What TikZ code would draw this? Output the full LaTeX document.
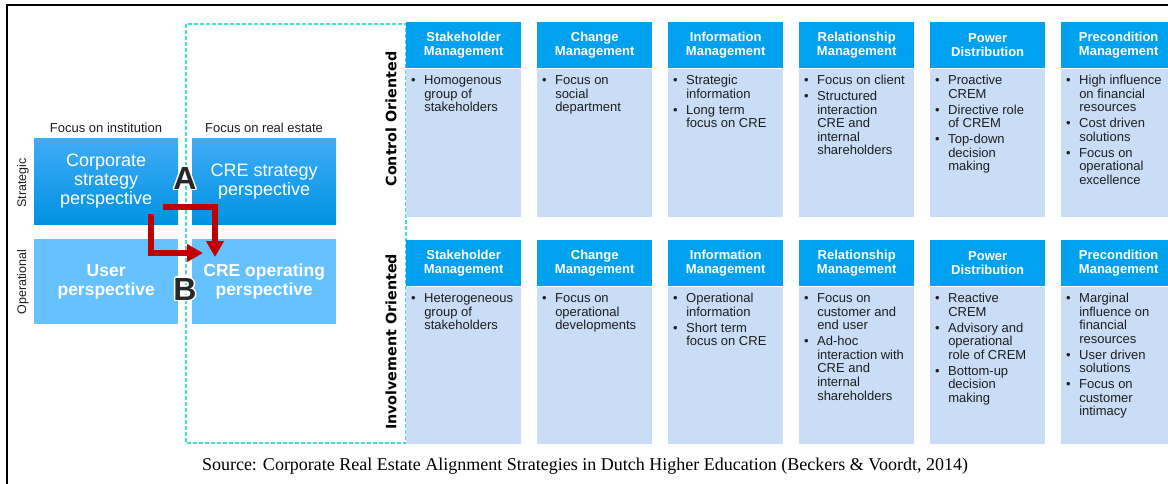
\documentclass[tikz,border=0pt]{standalone}
\usepackage{fontspec}
\setmainfont{Liberation Serif}
\setsansfont{Liberation Sans}
\newfontfamily\orientfont{DejaVu Sans}
\usetikzlibrary{positioning,arrows.meta}

\definecolor{hdrblue}{RGB}{0,162,240}
\definecolor{bodyblue}{RGB}{201,221,246}
\definecolor{stratTop}{RGB}{64,172,246}
\definecolor{stratBot}{RGB}{0,146,226}
\definecolor{operblue}{RGB}{102,194,255}
\definecolor{dashteal}{RGB}{64,224,204}
\definecolor{arrowred}{RGB}{192,0,0}
\definecolor{lettergray}{RGB}{40,40,40}
\definecolor{textgray}{RGB}{30,30,30}

\newcommand{\bulletlist}[1]{\begin{tabular}{@{}l@{\hspace{8.5pt}}l@{}}#1\end{tabular}}

\tikzset{
  hdr/.style={fill=hdrblue, minimum width=115pt, minimum height=46pt, anchor=north west,
    inner sep=0pt, text=white, align=center, font=\sffamily\bfseries\fontsize{13}{14}\selectfont},
  cbody/.style={fill=bodyblue, minimum width=115pt, minimum height=148pt, inner sep=0pt, below=0pt of #1},
  ibody/.style={fill=bodyblue, minimum width=115pt, minimum height=157pt, inner sep=0pt, below=0pt of #1},
  items/.style={anchor=north west, inner sep=0pt, text=textgray,
    font=\sffamily\fontsize{13}{13.6}\selectfont},
  quad/.style={minimum width=144pt, anchor=north west, inner sep=0pt, text=white, align=center},
  stratq/.style={quad, minimum height=86pt, top color=stratTop, bottom color=stratBot,
    font=\sffamily\fontsize{18}{19}\selectfont},
  operq/.style={quad, minimum height=85pt, fill=operblue,
    font=\sffamily\bfseries\fontsize{17.5}{19}\selectfont},
  axislbl/.style={inner sep=0pt, text=textgray, font=\sffamily\fontsize{13}{13}\selectfont},
  orient/.style={rotate=90, inner sep=0pt, text=black, font=\orientfont\bfseries\fontsize{14.3}{14.3}\selectfont},
  letter/.style={inner sep=0pt, text=lettergray, font=\sffamily\bfseries\fontsize{32}{32}\selectfont},
  redarrow/.style={draw=arrowred, line width=5.5pt, -{Triangle[length=16pt,width=17pt]}}
}

\begin{document}
\begin{tikzpicture}[x=1pt,y=-1pt]

    \useasboundingbox (0,0) rectangle (1168,484);
    \clip (0,0) rectangle (1168,484);
    \fill[white] (0,0) rectangle (1168,484);

    % frame
    \draw[line width=2pt] (7,5) rectangle (1190,500);

    % dashed outline behind the quadrant
    \draw[dashteal, line width=1.3pt, dash pattern=on 4pt off 2pt] (186,24) rectangle (406,443);

    % quadrant
    \node[stratq] (corp) at (34,138) {Corporate\\strategy\\perspective};
    \node[stratq] (crestrat) at (192,138) {CRE strategy\\perspective};
    \node[operq] (user) at (34,239) {User\\perspective};
    \node[operq] (creop) at (192,239) {CRE operating\\perspective};

    \node[axislbl] (inst) at (106,128) {Focus on institution};
    \node[axislbl] (realest) at (264,128) {Focus on real estate};
    \node[axislbl, rotate=90, font=\sffamily\fontsize{12.5}{12.5}\selectfont] (strat) at (23,183) {Strategic};
    \node[axislbl, rotate=90, font=\sffamily\fontsize{12.5}{12.5}\selectfont] (oper) at (23,282) {Operational};

    % letters with white rim
    \foreach \dx/\dy in {-1.5/0,1.5/0,0/-1.5,0/1.5,-1/-1,1/1,-1/1,1/-1}{
      \node[letter, text=white] at (185+\dx,178+\dy) {A};
      \node[letter, text=white] at (185+\dx,289+\dy) {B};
    }
    \node[letter] (lettA) at (185,178) {A};
    \node[letter] (lettB) at (185,289) {B};

    % red arrows
    \coordinate (arrAfrom) at (163,207);
    \coordinate (arrAto) at (215,257);
    \coordinate (arrBfrom) at (151,214);
    \coordinate (arrBto) at (203,253);
    \draw[redarrow] (arrAfrom) -| (arrAto);
    \draw[redarrow] (arrBfrom) |- (arrBto);

    % row labels
    \node[orient] (ctrl) at (391,119) {Control Oriented};
    \node[orient] (invl) at (391,342) {Involvement Oriented};

    % control oriented row
    \node[hdr] (stakeCh) at (406,22) {Stakeholder\\Management};
    \node[cbody=stakeCh] (stakeCb) {};
    \node[items] at ([xshift=5pt,yshift=-6.4pt]stakeCb.north west)
      {\bulletlist{\textbullet & Homogenous\\ & group of\\ & stakeholders}};

    \node[hdr] (changeCh) at (537,22) {Change\\Management};
    \node[cbody=changeCh] (changeCb) {};
    \node[items] at ([xshift=5pt,yshift=-6.4pt]changeCb.north west)
      {\bulletlist{\textbullet & Focus on\\ & social\\ & department}};

    \node[hdr] (infoCh) at (668,22) {Information\\Management};
    \node[cbody=infoCh] (infoCb) {};
    \node[items] at ([xshift=5pt,yshift=-6.4pt]infoCb.north west)
      {\bulletlist{\textbullet & Strategic\\ & information\\[2.3pt]
        \textbullet & Long term\\ & focus on CRE}};

    \node[hdr] (relatCh) at (799,22) {Relationship\\Management};
    \node[cbody=relatCh] (relatCb) {};
    \node[items] at ([xshift=5pt,yshift=-6.4pt]relatCb.north west)
      {\bulletlist{\textbullet & Focus on client\\[2.3pt]
        \textbullet & Structured\\ & interaction\\ & CRE and\\ & internal\\ & shareholders}};

    \node[hdr] (powerCh) at (930,22) {Power\\Distribution};
    \node[cbody=powerCh] (powerCb) {};
    \node[items] at ([xshift=5pt,yshift=-6.4pt]powerCb.north west)
      {\bulletlist{\textbullet & Proactive\\ & CREM\\[2.3pt]
        \textbullet & Directive role\\ & of CREM\\[2.3pt]
        \textbullet & Top-down\\ & decision\\ & making}};

    \node[hdr] (preconCh) at (1061,22) {Precondition\\Management};
    \node[cbody=preconCh] (preconCb) {};
    \node[items] at ([xshift=5pt,yshift=-6.4pt]preconCb.north west)
      {\bulletlist{\textbullet & High influence\\ & on financial\\ & resources\\[2.3pt]
        \textbullet & Cost driven\\ & solutions\\[2.3pt]
        \textbullet & Focus on\\ & operational\\ & excellence}};

    % involvement oriented row
    \node[hdr] (stakeIh) at (406,240) {Stakeholder\\Management};
    \node[ibody=stakeIh] (stakeIb) {};
    \node[items] at ([xshift=5pt,yshift=-6.4pt]stakeIb.north west)
      {\bulletlist{\textbullet & Heterogeneous\\ & group of\\ & stakeholders}};

    \node[hdr] (changeIh) at (537,240) {Change\\Management};
    \node[ibody=changeIh] (changeIb) {};
    \node[items] at ([xshift=5pt,yshift=-6.4pt]changeIb.north west)
      {\bulletlist{\textbullet & Focus on\\ & operational\\ & developments}};

    \node[hdr] (infoIh) at (668,240) {Information\\Management};
    \node[ibody=infoIh] (infoIb) {};
    \node[items] at ([xshift=5pt,yshift=-6.4pt]infoIb.north west)
      {\bulletlist{\textbullet & Operational\\ & information\\[2.3pt]
        \textbullet & Short term\\ & focus on CRE}};

    \node[hdr] (relatIh) at (799,240) {Relationship\\Management};
    \node[ibody=relatIh] (relatIb) {};
    \node[items] at ([xshift=5pt,yshift=-6.4pt]relatIb.north west)
      {\bulletlist{\textbullet & Focus on\\ & customer and\\ & end user\\[2.3pt]
        \textbullet & Ad-hoc\\ & interaction with\\ & CRE and\\ & internal\\ & shareholders}};

    \node[hdr] (powerIh) at (930,240) {Power\\Distribution};
    \node[ibody=powerIh] (powerIb) {};
    \node[items] at ([xshift=5pt,yshift=-6.4pt]powerIb.north west)
      {\bulletlist{\textbullet & Reactive\\ & CREM\\[2.3pt]
        \textbullet & Advisory and\\ & operational\\ & role of CREM\\[2.3pt]
        \textbullet & Bottom-up\\ & decision\\ & making}};

    \node[hdr] (preconIh) at (1061,240) {Precondition\\Management};
    \node[ibody=preconIh] (preconIb) {};
    \node[items] at ([xshift=5pt,yshift=-6.4pt]preconIb.north west)
      {\bulletlist{\textbullet & Marginal\\ & influence on\\ & financial\\ & resources\\[2.3pt]
        \textbullet & User driven\\ & solutions\\[2.3pt]
        \textbullet & Focus on\\ & customer\\ & intimacy}};

    % source line
    \node[font=\fontsize{18}{18}\selectfont] (source) at (585,466)
      {Source: Corporate Real Estate Alignment Strategies in Dutch Higher Education (Beckers \& Voordt, 2014)};
\end{tikzpicture}
\end{document}
